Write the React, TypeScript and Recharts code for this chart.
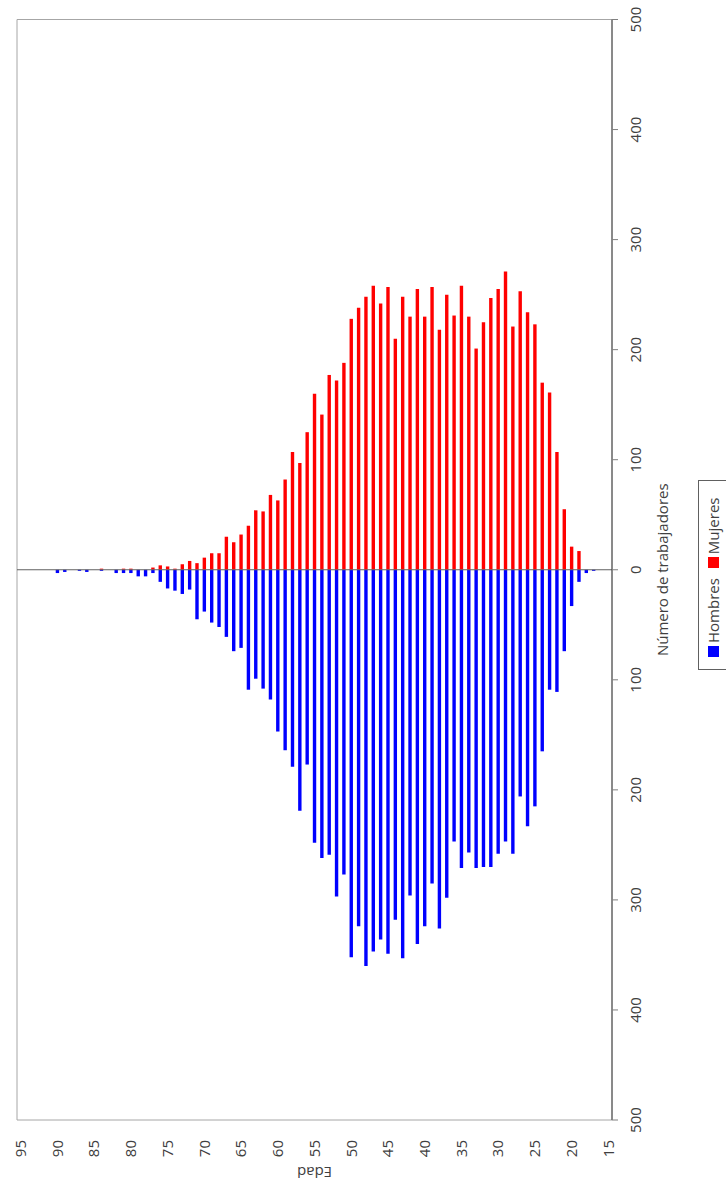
import React from "react";
import {
  BarChart,
  Bar,
  XAxis,
  YAxis,
  Legend,
  ReferenceLine,
  ReferenceArea,
} from "recharts";

// edades de arriba (95) a abajo (15)
const AGES = [
  95, 94, 93, 92, 91, 90, 89, 88, 87, 86,
  85, 84, 83, 82, 81, 80, 79, 78, 77, 76,
  75, 74, 73, 72, 71, 70, 69, 68, 67, 66,
  65, 64, 63, 62, 61, 60, 59, 58, 57, 56,
  55, 54, 53, 52, 51, 50, 49, 48, 47, 46,
  45, 44, 43, 42, 41, 40, 39, 38, 37, 36,
  35, 34, 33, 32, 31, 30, 29, 28, 27, 26,
  25, 24, 23, 22, 21, 20, 19, 18, 17, 16,
  15,
];

const HOMBRES = [
  0, 0, 0, 0, 0, 3, 2, 0, 1, 2,
  0, 1, 0, 3, 3, 3, 6, 6, 3, 11,
  17, 19, 22, 18, 45, 38, 48, 52, 61, 74,
  71, 109, 99, 108, 118, 147, 164, 179, 219, 177,
  248, 262, 259, 297, 277, 352, 324, 360, 347, 336,
  349, 318, 353, 296, 340, 324, 285, 326, 298, 247,
  271, 257, 271, 270, 270, 258, 247, 258, 206, 233,
  215, 165, 109, 111, 74, 33, 11, 3, 1, 0,
  0,
];

const MUJERES = [
  0, 0, 0, 0, 0, 0, 0, 0, 0, 0,
  0, 1, 0, 0, 1, 1, 0, 0, 2, 4,
  3, 1, 5, 8, 6, 11, 15, 15, 30, 25,
  32, 40, 54, 53, 68, 63, 82, 107, 97, 125,
  160, 141, 177, 172, 188, 228, 238, 248, 258, 242,
  257, 210, 248, 230, 255, 230, 257, 218, 250, 231,
  258, 230, 201, 225, 247, 255, 271, 221, 253, 234,
  223, 170, 161, 107, 55, 21, 17, 0, 0, 0,
  0,
];

const COUNT_TICKS = [-500, -400, -300, -200, -100, 0, 100, 200, 300, 400, 500];

const data = AGES.map((age, i) => ({
  age,
  hombres: -HOMBRES[i],
  mujeres: MUJERES[i],
}));

const TEXT = "#404040";
const FONT = '"Open Sans", sans-serif';

// eslint-disable-next-line @typescript-eslint/no-explicit-any
function LegendBox({ payload }: any) {
  return (
    <div
      style={{
        boxSizing: "border-box",
        width: 190,
        height: 34,
        border: "1px solid #606060",
        background: "#fff",
        display: "flex",
        alignItems: "flex-start",
        paddingTop: 4,
        paddingLeft: 12,
        fontFamily: FONT,
        fontSize: 15,
        color: TEXT,
      }}
    >
      {(payload || []).map((p: any, i: number) => (
        <span key={i} style={{ display: "flex", alignItems: "center", marginRight: 10 }}>
          <span style={{ width: 11, height: 11, background: p.color, marginRight: 3 }} />
          {p.value}
        </span>
      ))}
    </div>
  );
}

export default function App() {
  return (
    <div
      style={{
        position: "fixed",
        left: 0,
        top: 0,
        width: 726,
        height: 1190,
        overflow: "hidden",
        background: "#fff",
      }}
    >
      {/* el gráfico se dibuja apaisado y se gira 90° */}
      <div
        style={{
          position: "absolute",
          left: 0,
          top: 0,
          width: 1190,
          height: 726,
          transformOrigin: "0 0",
          transform: "translateY(1190px) rotate(-90deg)",
          fontFamily: FONT,
        }}
      >
        <BarChart
          width={1190}
          height={726}
          data={data}
          layout="vertical"
          stackOffset="sign"
          barCategoryGap={0}
          margin={{ top: 17, right: 19.5, bottom: 0, left: 0 }}
        >
          <XAxis
            type="number"
            domain={[-500, 500]}
            ticks={COUNT_TICKS}
            tickFormatter={(v: number) => String(Math.abs(v))}
            height={114}
            tick={{ fill: TEXT, fontSize: 15, fontFamily: FONT }}
            tickLine={{ stroke: "#808080" }}
            axisLine={{ stroke: "#404040" }}
            tickMargin={12}
            label={{
              value: "Número de trabajadores",
              position: "insideTop",
              offset: 45,
              fill: TEXT,
              fontSize: 15,
              fontFamily: FONT,
            }}
          />
          <YAxis
            type="category"
            dataKey="age"
            width={70}
            interval={4}
            tick={{ fill: TEXT, fontSize: 15, fontFamily: FONT }}
            tickLine={false}
            axisLine={false}
            tickMargin={14}
            label={{
              value: "Edad",
              angle: -90,
              position: "insideLeft",
              offset: 18,
              fill: TEXT,
              fontSize: 15,
              fontFamily: FONT,
              style: { textAnchor: "middle" },
            }}
          />
          <ReferenceArea x1={-500} x2={500} fill="none" stroke="#a6a6a6" ifOverflow="visible" />
          <Bar
            dataKey="hombres"
            name="Hombres"
            stackId="a"
            fill="#0000ff"
            barSize={3.4}
            isAnimationActive={false}
          />
          <Bar
            dataKey="mujeres"
            name="Mujeres"
            stackId="a"
            fill="#ff0000"
            barSize={3.4}
            isAnimationActive={false}
          />
          <ReferenceLine x={0} stroke="#606060" strokeWidth={1.2} />
          <Legend
            layout="horizontal"
            verticalAlign="middle"
            align="center"
            content={<LegendBox />}
            wrapperStyle={{ top: 698, left: 520, bottom: "auto", width: 190 }}
          />
        </BarChart>
      </div>
    </div>
  );
}
